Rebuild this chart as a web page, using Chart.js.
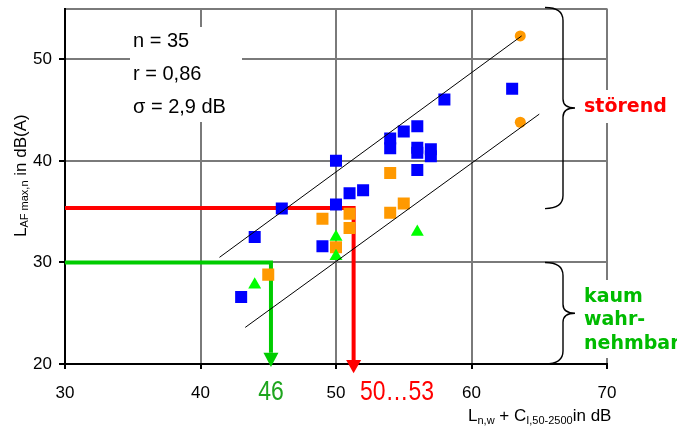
<!DOCTYPE html>
<html><head><meta charset="utf-8">
<script src="https://cdn.jsdelivr.net/npm/chart.js@4/dist/chart.umd.min.js"></script>
<style>html,body{margin:0;padding:0;background:#fff;}#wrap{width:690px;height:426px;}</style>
</head><body><div id="wrap"><canvas id="c" width="690" height="426"></canvas></div>
<script>
// ---- data ----
const xTicks = [30, 40, 50, 60, 70];
const yTicks = [20, 30, 40, 50];
const blueX = [43, 44, 46, 49, 50, 50, 51, 52, 54, 54, 55, 56, 56, 56, 56, 57, 57, 58, 63];
const blueY = [26.6, 32.5, 35.3, 31.6, 35.7, 40.0, 36.8, 37.1, 42.2, 41.25, 42.9, 43.4, 41.3, 40.8, 39.1, 41.15, 40.45, 46.05, 47.1];
const orangeSqX = [45, 49, 50, 51, 51, 54, 54, 55];
const orangeSqY = [28.8, 34.3, 31.5, 34.8, 33.4, 34.9, 38.8, 35.8];
const orangeCircX = [63.6, 63.6];
const orangeCircY = [52.3, 43.8];
const greenX = [44, 50, 50, 56];
const greenY = [27.8, 32.5, 30.6, 33.0];
const upperLineX = [41.4, 63.7];
const upperLineY = [30.5, 52.3];
const lowerLineX = [43.3, 65.0];
const lowerLineY = [23.6, 44.6];
const redGuideX = [30, 51.3, 51.3];
const redGuideY = [35.35, 35.35, 20.4];
const redArrowTip = 19.1;
const greenGuideX = [30, 45.2, 45.2];
const greenGuideY = [30, 30, 21.1];
const greenArrowTip = 19.7;
const statLines = ['n = 35', 'r = 0,86', 'σ = 2,9 dB'];
const greenValueLabel = '46';
const redValueLabel = '50…53';
const zoneTop = [35.3, 55];   // störend
const zoneBottom = [20, 30];  // kaum wahrnehmbar
const zoneTopLabel = ['störend'];
const zoneBottomLabel = ['kaum', 'wahr-', 'nehmbar'];

const pts = (xs, ys) => xs.map((x, i) => ({x, y: ys[i]}));
const FONT = '"Liberation Sans", Arial, sans-serif';

function brace(ctx, x0, top, bottom, xTip) {
  const xm = x0 + 18, mid = (top + bottom) / 2;
  ctx.beginPath();
  ctx.moveTo(x0, top);
  ctx.quadraticCurveTo(xm, top, xm, top + 13);
  ctx.lineTo(xm, mid - 9);
  ctx.quadraticCurveTo(xm, mid, xTip, mid);
  ctx.quadraticCurveTo(xm, mid, xm, mid + 9);
  ctx.lineTo(xm, bottom - 13);
  ctx.quadraticCurveTo(xm, bottom, x0, bottom);
  ctx.stroke();
}

function richText(ctx, parts, x, y) {
  let cx = x;
  parts.forEach(p => {
    ctx.font = p.size + 'px ' + FONT;
    ctx.fillText(p.t, cx, y + (p.dy || 0));
    cx += ctx.measureText(p.t).width;
  });
}

const annot = {
  id: 'annot',
  beforeDatasetsDraw(chart) {
    const ctx = chart.ctx;
    ctx.save();
    ctx.fillStyle = '#fff';
    ctx.fillRect(130, 27, 112, 95);
    ctx.fillRect(580, 90, 110, 33);
    ctx.fillRect(580, 280, 110, 78);
    ctx.fillStyle = '#000';
    ctx.font = '20px ' + FONT;
    ctx.textBaseline = 'alphabetic';
    statLines.forEach((t, i) => ctx.fillText(t, 133, 47 + i * 33));
    ctx.restore();
  },
  afterDatasetsDraw(chart) {
    const ctx = chart.ctx, xs = chart.scales.x, ys = chart.scales.y;
    ctx.save();
    const arrow = (xv, baseV, tipV, color) => {
      const x = xs.getPixelForValue(xv), b = ys.getPixelForValue(baseV), t = ys.getPixelForValue(tipV);
      ctx.fillStyle = color;
      ctx.beginPath();
      ctx.moveTo(x - 7.5, b); ctx.lineTo(x + 7.5, b); ctx.lineTo(x, t); ctx.closePath();
      ctx.fill();
    };
    arrow(redGuideX[2], redGuideY[2], redArrowTip, '#ff0000');
    arrow(greenGuideX[2], greenGuideY[2], greenArrowTip, '#00cc00');
    ctx.restore();
  },
  afterDraw(chart) {
    const ctx = chart.ctx, xs = chart.scales.x, ys = chart.scales.y;
    ctx.save();
    ctx.strokeStyle = '#000'; ctx.lineWidth = 1.4;
    brace(ctx, 545, ys.getPixelForValue(zoneTop[1]) - 1, ys.getPixelForValue(zoneTop[0]), 575);
    brace(ctx, 545, ys.getPixelForValue(zoneBottom[1]), ys.getPixelForValue(zoneBottom[0]), 575);
    ctx.beginPath(); ctx.rect(0, 0, 677, 426); ctx.clip();
    ctx.font = 'bold 19px "DejaVu Sans", Verdana, sans-serif';
    ctx.textBaseline = 'middle';
    ctx.fillStyle = '#ff0000';
    zoneTopLabel.forEach((t, i) => ctx.fillText(t, 584, 107 + i * 24));
    ctx.fillStyle = '#00bb00';
    zoneBottomLabel.forEach((t, i) => ctx.fillText(t, 584, 297 + i * 23.5));
    ctx.restore();

    ctx.save();
    const narrow = (t, cx, cy, color) => {
      ctx.save();
      ctx.font = '28px ' + FONT;
      ctx.fillStyle = color;
      ctx.textBaseline = 'alphabetic';
      ctx.translate(cx, cy);
      ctx.scale(0.82, 1);
      const w = ctx.measureText(t).width;
      ctx.fillText(t, -w / 2, 0);
      ctx.restore();
    };
    narrow(greenValueLabel, xs.getPixelForValue(greenGuideX[1]), 400, '#1ea51e');
    narrow(redValueLabel, 397, 400, '#ff0000');

    ctx.fillStyle = '#000';
    ctx.textBaseline = 'alphabetic';
    richText(ctx, [
      {t: 'L', size: 17}, {t: 'n,w', size: 11, dy: 3}, {t: ' + C', size: 17},
      {t: 'I,50-2500', size: 11, dy: 3}, {t: 'in dB', size: 17}
    ], 468, 421);
    ctx.translate(26, 237);
    ctx.rotate(-Math.PI / 2);
    richText(ctx, [
      {t: 'L', size: 17}, {t: 'AF max,n', size: 11, dy: 1.5}, {t: ' in dB(A)', size: 17}
    ], 0, 0);
    ctx.restore();
  }
};

new Chart(document.getElementById('c'), {
  type: 'scatter',
  data: {
    datasets: [
      {data: pts(upperLineX, upperLineY), showLine: true, borderColor: '#000', borderWidth: 1, pointRadius: 0, order: 0},
      {data: pts(lowerLineX, lowerLineY), showLine: true, borderColor: '#000', borderWidth: 1, pointRadius: 0, order: 0},
      {data: pts(greenX, greenY), pointStyle: 'triangle', pointRadius: 7.5, backgroundColor: '#00ff00', borderWidth: 0, order: 1},
      {data: pts(orangeCircX, orangeCircY), pointStyle: 'circle', pointRadius: 5.5, backgroundColor: '#ff9900', borderWidth: 0, order: 2},
      {data: pts(orangeSqX, orangeSqY), pointStyle: 'rect', pointRadius: 8.5, backgroundColor: '#ff9900', borderWidth: 0, order: 3},
      {data: pts(blueX, blueY), pointStyle: 'rect', pointRadius: 8.5, backgroundColor: '#0000ff', borderWidth: 0, order: 4},
      {data: pts(redGuideX, redGuideY), showLine: true, borderColor: '#ff0000', borderWidth: 4, pointRadius: 0, borderJoinStyle: 'miter', clip: false, order: 10},
      {data: pts(greenGuideX, greenGuideY), showLine: true, borderColor: '#00cc00', borderWidth: 4, pointRadius: 0, borderJoinStyle: 'miter', clip: false, order: 10}
    ]
  },
  options: {
    responsive: false, animation: false, devicePixelRatio: 1,
    layout: {padding: {top: 8, right: 83, left: 0, bottom: 0}},
    plugins: {legend: {display: false}, tooltip: {enabled: false}},
    scales: {
      x: {
        type: 'linear', min: 30, max: 70,
        afterBuildTicks: s => { s.ticks = xTicks.map(v => ({value: v})); },
        afterFit: s => { s.height = 62; s.paddingLeft = 0; s.paddingRight = 0; },
        grid: {color: '#7a7a7a', lineWidth: 2, tickLength: 5, tickColor: '#000'},
        border: {color: '#000', width: 2},
        ticks: {font: {family: FONT, size: 17}, color: '#000', padding: 14, maxRotation: 0, autoSkip: false, callback: v => String(v)}
      },
      y: {
        type: 'linear', min: 20, max: 55,
        afterBuildTicks: s => { s.ticks = yTicks.concat([55]).map(v => ({value: v})); },
        afterFit: s => { s.width = 65; s.paddingTop = 0; s.paddingBottom = 0; },
        grid: {color: '#7a7a7a', lineWidth: 2, tickLength: 6,
          tickColor: c => (c.tick && c.tick.value === 55) ? 'rgba(0,0,0,0)' : '#000'},
        border: {color: '#000', width: 2},
        ticks: {font: {family: FONT, size: 17}, color: '#000', padding: 7, autoSkip: false,
          callback: v => yTicks.includes(v) ? String(v) : ''}
      }
    }
  },
  plugins: [annot]
});
</script>
</body></html>
